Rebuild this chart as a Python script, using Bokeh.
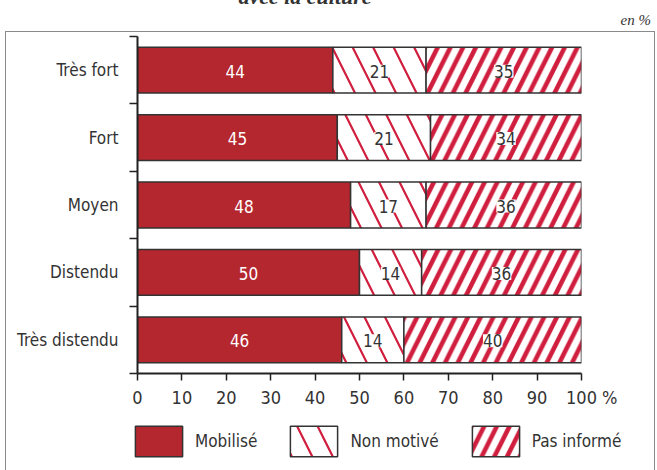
import numpy as np
from bokeh.plotting import figure
from bokeh.layouts import column
from bokeh.models import (ColumnDataSource, FixedTicker, LabelSet, Legend, LegendItem,
                          Range1d, Div)
from bokeh.core.properties import value
from bokeh.embed import file_html
from bokeh.resources import INLINE

categories = ["Très fort", "Fort", "Moyen", "Distendu", "Très distendu"]
series = ["Mobilisé", "Non motivé", "Pas informé"]
mobilise = [44, 45, 48, 50, 46]
non_motive = [21, 21, 17, 14, 14]
pas_informe = [35, 34, 36, 36, 40]
x_ticks = [0, 10, 20, 30, 40, 50, 60, 70, 80, 90, 100]
title_text = "avec la culture"
unit_text = "en %"

FONT = "DejaVu Sans Condensed"
DARK_RED = "#b5272f"
RED = "#d01e3e"
INK = "#333333"
BOX = "1.5px solid #8a8a8a"

n = len(categories)
ypos = [n - i - 0.5 for i in range(n)]
vals = np.array([mobilise, non_motive, pas_informe], dtype=float)
rights = np.cumsum(vals, axis=0)
lefts = rights - vals

styles = [
    dict(fill_color=DARK_RED),
    dict(fill_color="white", hatch_pattern="\\", hatch_color=RED, hatch_weight=2.2, hatch_scale=41),
    dict(fill_color="white", hatch_pattern="/", hatch_color=RED, hatch_weight=4.6, hatch_scale=25.4),
]

# ---- header (title + unit), outside the framed box
head = Div(width=657, height=31, margin=0, text=(
    '<div style="position:relative;width:657px;height:31px;overflow:hidden;">'
    '<span style="position:absolute;left:0;top:-14px;width:610px;text-align:center;'
    "font:italic bold 22px 'Liberation Serif';line-height:22px;color:#333;white-space:nowrap;\">"
    f'{title_text}</span>'
    '<span style="position:absolute;right:6px;top:12px;'
    "font:italic 15px 'Liberation Serif';line-height:16px;color:#333;white-space:nowrap;\">"
    f'{unit_text}</span></div>'))

# ---- main chart
p = figure(width=650, height=379, output_backend="svg", toolbar_location=None,
           x_range=Range1d(0, 100), y_range=Range1d(0, n),
           min_border_left=131, min_border_right=75, min_border_top=4, min_border_bottom=38,
           styles={"margin-left": "5px", "border-top": BOX, "border-left": BOX, "border-right": BOX})
p.grid.visible = False
p.outline_line_color = None

sources = []
for k, name in enumerate(series):
    src = ColumnDataSource(dict(y=ypos, left=lefts[k], right=rights[k],
                                mid=(lefts[k] + rights[k]) / 2,
                                txt=[str(int(v)) for v in vals[k]]))
    sources.append(src)
    p.hbar(y="y", left="left", right="right", height=0.68, source=src,
           line_color=INK, line_width=1.5, **styles[k])
    lab = LabelSet(x="mid", y="y", text="txt", source=src, text_align="center",
                   text_baseline="middle", text_font=value(FONT), text_font_size="17px",
                   text_color="white" if k == 0 else INK, y_offset=-1)
    if k > 0:
        lab.background_fill_color = "white"
    p.add_layout(lab)

xa = p.xaxis[0]
xa.ticker = FixedTicker(ticks=x_ticks)
xa.major_label_overrides = {100: "\u2007\u2007100 %"}
xa.major_tick_out = 7
xa.major_tick_in = 0
xa.minor_tick_out = 0
xa.minor_tick_in = 0
xa.axis_line_width = 2
xa.axis_line_color = "#222222"
xa.major_tick_line_color = "#222222"
xa.major_tick_line_width = 1.5
xa.major_label_text_font = FONT
xa.major_label_text_font_size = "18px"
xa.major_label_text_color = INK
xa.major_label_standoff = 6

ya = p.yaxis[0]
ya.ticker = FixedTicker(ticks=ypos, minor_ticks=list(range(n + 1)))
ya.major_label_overrides = {y: c for y, c in zip(ypos, categories)}
ya.major_tick_out = 0
ya.major_tick_in = 0
ya.minor_tick_out = 8
ya.minor_tick_in = 0
ya.minor_tick_line_color = "#222222"
ya.minor_tick_line_width = 1.5
ya.axis_line_width = 2
ya.axis_line_color = "#222222"
ya.major_label_text_font = FONT
ya.major_label_text_font_size = "17px"
ya.major_label_text_color = INK
ya.major_label_standoff = 11

# ---- legend strip (own frame, not aligned with the chart frame)
lg = figure(width=650, height=70, output_backend="svg", toolbar_location=None,
            x_range=Range1d(0, 100), y_range=Range1d(100, 101),
            x_axis_type=None, y_axis_type=None, min_border=0,
            styles={"margin-left": "5px", "border-left": BOX, "border-right": BOX})
lg.frame_align = False
lg.grid.visible = False
lg.outline_line_color = None
items = []
for k, name in enumerate(series):
    r = lg.hbar(y="y", left="left", right="right", height=0.68, source=sources[k],
                line_color=INK, line_width=1.5, **styles[k])
    items.append(LegendItem(label=name, renderers=[r]))
lg.add_layout(Legend(items=items, orientation="horizontal", location=(123, 20),
                     glyph_width=59, glyph_height=38, label_standoff=7, spacing=27,
                     padding=0, margin=0, label_text_font=FONT, label_text_font_size="17px",
                     label_text_color=INK, border_line_alpha=0, background_fill_alpha=0))

layout = column(head, p, lg, spacing=0)
open("out.html", "w").write(file_html(layout, INLINE))
